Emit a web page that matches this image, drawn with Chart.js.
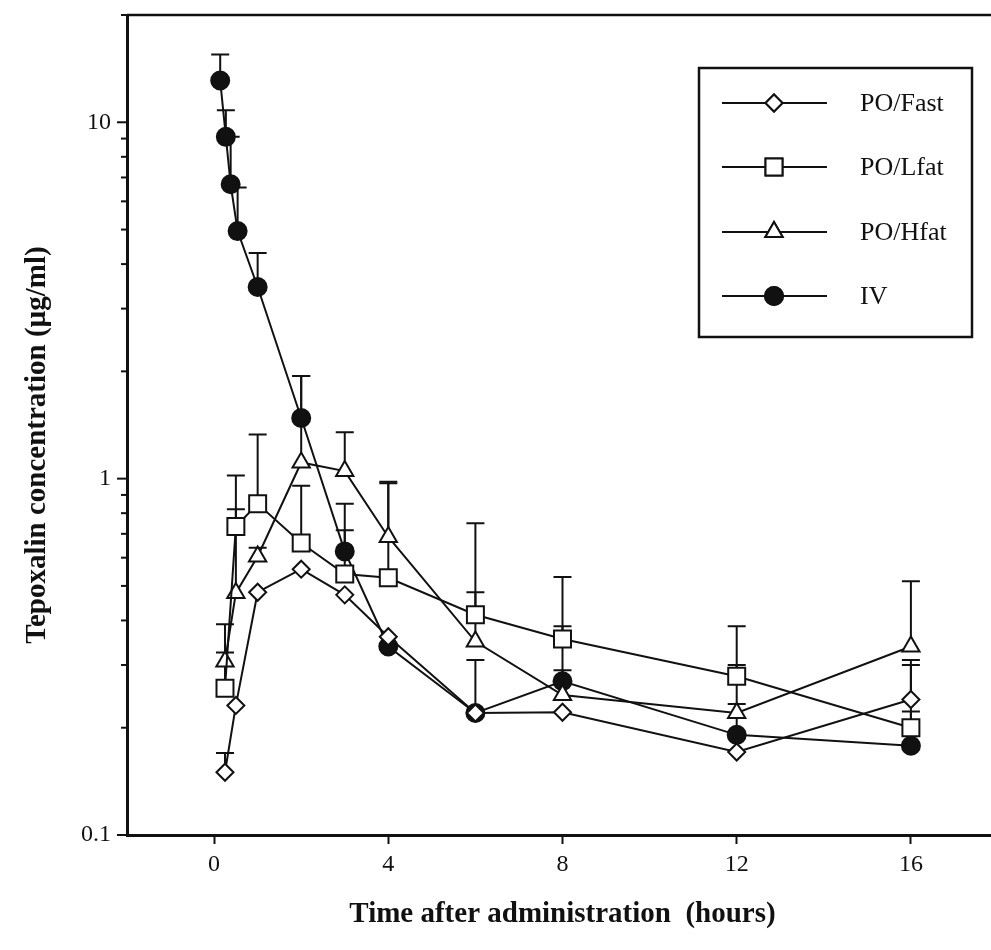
<!DOCTYPE html>
<html>
<head>
<meta charset="utf-8">
<script src="https://cdn.jsdelivr.net/npm/chart.js@4.4.0/dist/chart.umd.min.js"></script>
<style>
  html, body { margin: 0; padding: 0; background: #fff; overflow: hidden; }
  #wrap { width: 1012px; height: 950px; }
</style>
</head>
<body>
<div id="wrap"><canvas id="chart" width="1012" height="950"></canvas></div>
<script>
// sampling times (hours)
const poHours = [0.25, 0.5, 1, 2, 3, 4, 6, 8, 12, 16];
const ivHours = [0.14, 0.27, 0.38, 0.54, 1, 2, 3, 4, 6, 8, 12, 16];

// mean concentrations (ug/ml) and top of the error bar (mean + SD), null = no visible bar
const fastMean  = [0.15, 0.231, 0.48, 0.557, 0.472, 0.36, 0.22, 0.221, 0.171, 0.24];
const fastUpper = [0.17, null, null, null, null, null, 0.31, null, null, 0.31];

const lfatMean  = [0.258, 0.734, 0.85, 0.66, 0.54, 0.527, 0.415, 0.355, 0.279, 0.2];
const lfatUpper = [0.39, 1.02, 1.33, 0.955, 0.716, 0.97, 0.75, 0.53, 0.385, 0.222];

const hfatMean  = [0.307, 0.478, 0.605, 1.11, 1.05, 0.686, 0.349, 0.247, 0.22, 0.338];
const hfatUpper = [0.325, 0.82, 0.64, 1.94, 1.35, 0.98, 0.48, 0.29, 0.233, 0.515];

const ivMean  = [13.1, 9.1, 6.7, 4.95, 3.45, 1.48, 0.625, 0.338, 0.22, 0.27, 0.191, 0.178];
const ivUpper = [15.5, 10.8, 9.1, 6.56, 4.3, 1.94, 0.85, null, null, 0.385, 0.30, 0.30];

const seriesNames = ['PO/Fast', 'PO/Lfat', 'PO/Hfat', 'IV'];

// axis ticks
const xTicks = [0, 4, 8, 12, 16];
const yTicks = [0.1, 0.2, 0.3, 0.4, 0.5, 0.6, 0.7, 0.8, 0.9, 1, 2, 3, 4, 5, 6, 7, 8, 9, 10, 20];
const yLabelTicks = [0.1, 1, 10];

const yTitle = 'Tepoxalin concentration (µg/ml)';
const xTitle = 'Time after administration  (hours)';

const FONT = "'Liberation Serif', 'Times New Roman', serif";
const INK = '#111';

const toPoints = (xs, ys) => xs.map((x, i) => ({ x: x, y: ys[i] }));

const errorBars = {
  id: 'errorBars',
  beforeDatasetsDraw(chart) {
    const ctx = chart.ctx;
    const yScale = chart.scales.y;
    ctx.save();
    ctx.strokeStyle = INK;
    ctx.lineWidth = 2;
    chart.data.datasets.forEach((ds, i) => {
      const meta = chart.getDatasetMeta(i);
      ds.upper.forEach((u, j) => {
        if (u == null) return;
        const pt = meta.data[j];
        const yTop = yScale.getPixelForValue(u);
        ctx.beginPath();
        ctx.moveTo(pt.x, pt.y);
        ctx.lineTo(pt.x, yTop);
        ctx.moveTo(pt.x - 9, yTop);
        ctx.lineTo(pt.x + 9, yTop);
        ctx.stroke();
      });
    });
    ctx.restore();
  }
};

const frameAndTicks = {
  id: 'frameAndTicks',
  afterDraw(chart) {
    const ctx = chart.ctx;
    const a = chart.chartArea;
    const yScale = chart.scales.y;
    ctx.save();
    ctx.strokeStyle = INK;
    ctx.lineWidth = 2.5;
    ctx.beginPath();
    ctx.moveTo(a.left, a.top);
    ctx.lineTo(a.right, a.top);
    ctx.lineTo(a.right, a.bottom);
    ctx.stroke();
    ctx.lineWidth = 2;
    yTicks.forEach(v => {
      const py = yScale.getPixelForValue(v);
      const len = yLabelTicks.includes(v) ? 10 : 6;
      ctx.beginPath();
      ctx.moveTo(a.left - len, py);
      ctx.lineTo(a.left, py);
      ctx.stroke();
    });
    // rotated y axis title
    ctx.translate(38, 445);
    ctx.rotate(-Math.PI / 2);
    ctx.fillStyle = INK;
    ctx.font = 'bold 29px ' + FONT;
    ctx.textAlign = 'center';
    ctx.textBaseline = 'middle';
    ctx.fillText(yTitle, 0, 0);
    ctx.restore();
  }
};

const boxLegend = {
  id: 'boxLegend',
  afterDraw(chart) {
    const ctx = chart.ctx;
    const box = { x: 699, y: 68, w: 273, h: 269 };
    const rows = [103, 167, 232, 296];
    ctx.save();
    ctx.fillStyle = '#fff';
    ctx.fillRect(box.x, box.y, box.w, box.h);
    ctx.strokeStyle = INK;
    ctx.lineWidth = 2.5;
    ctx.strokeRect(box.x, box.y, box.w, box.h);
    chart.data.datasets.forEach((ds, i) => {
      const y = rows[i];
      ctx.strokeStyle = INK;
      ctx.lineWidth = 2;
      ctx.beginPath();
      ctx.moveTo(722, y);
      ctx.lineTo(827, y);
      ctx.stroke();
      Chart.helpers.drawPoint(ctx, {
        pointStyle: ds.pointStyle,
        radius: ds.pointRadius,
        rotation: 0,
        borderWidth: ds.pointBorderWidth
      }, 774, y);
      ctx.fillStyle = ds.pointBackgroundColor;
      ctx.strokeStyle = INK;
      ctx.lineWidth = ds.pointBorderWidth;
      ctx.fill();
      ctx.stroke();
      ctx.fillStyle = INK;
      ctx.font = '26px ' + FONT;
      ctx.textBaseline = 'middle';
      ctx.textAlign = 'left';
      ctx.fillText(ds.label, 860, y + 1);
    });
    ctx.restore();
  }
};

function series(label, xs, ys, upper, style, radius, fill) {
  return {
    label: label,
    data: toPoints(xs, ys),
    upper: upper,
    borderColor: INK,
    borderWidth: 2,
    tension: 0,
    pointStyle: style,
    pointRadius: radius,
    pointHoverRadius: radius,
    pointBorderWidth: 2,
    pointBorderColor: INK,
    pointBackgroundColor: fill
  };
}

new Chart(document.getElementById('chart'), {
  type: 'line',
  data: {
    datasets: [
      series(seriesNames[0], poHours, fastMean, fastUpper, 'rectRot', 8.5, '#fff'),
      series(seriesNames[1], poHours, lfatMean, lfatUpper, 'rect', 12, '#fff'),
      series(seriesNames[2], poHours, hfatMean, hfatUpper, 'triangle', 10, '#fff'),
      series(seriesNames[3], ivHours, ivMean, ivUpper, 'circle', 9, INK)
    ]
  },
  options: {
    responsive: false,
    devicePixelRatio: 1,
    animation: false,
    layout: { padding: { top: 15, right: 10, bottom: 0, left: 0 } },
    plugins: { legend: { display: false }, tooltip: { enabled: false } },
    scales: {
      x: {
        type: 'linear',
        min: -2,
        max: 18,
        afterBuildTicks: s => { s.ticks = xTicks.map(v => ({ value: v })); },
        afterFit: s => { s.height = 115; s.paddingLeft = 0; s.paddingRight = 0; },
        grid: { drawOnChartArea: false, drawTicks: true, tickLength: 9, tickWidth: 2, tickColor: INK },
        border: { display: true, color: INK, width: 3 },
        ticks: { color: INK, font: { family: FONT, size: 24 }, padding: 6, maxRotation: 0 },
        title: {
          display: true,
          text: xTitle,
          color: INK,
          font: { family: FONT, size: 29, weight: 'bold' },
          padding: { top: 0, bottom: 18 }
        }
      },
      y: {
        type: 'logarithmic',
        min: 0.1,
        max: 20,
        afterBuildTicks: s => { s.ticks = yTicks.map(v => ({ value: v })); },
        afterFit: s => { s.width = 127; s.paddingTop = 0; s.paddingBottom = 0; },
        grid: { drawOnChartArea: false, drawTicks: false },
        border: { display: true, color: INK, width: 3 },
        ticks: {
          color: INK,
          font: { family: FONT, size: 24 },
          padding: 16,
          autoSkip: false,
          callback: v => yLabelTicks.includes(v) ? String(v) : ''
        },
        title: { display: false }
      }
    }
  },
  plugins: [errorBars, frameAndTicks, boxLegend]
});
</script>
</body>
</html>
